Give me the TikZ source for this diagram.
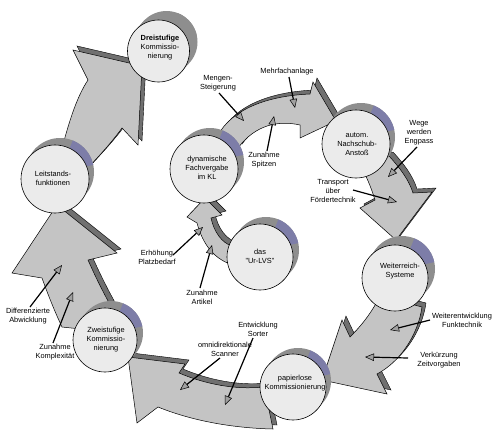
\documentclass[tikz,border=0pt]{standalone}
\usepackage{fontspec}
\setmainfont{Liberation Sans}
\usetikzlibrary{arrows.meta}
\definecolor{facecol}{HTML}{EBEBEB}
\definecolor{dshadow}{HTML}{8E8E8E}
\definecolor{dblue}{HTML}{7D7DA8}
\definecolor{afill}{HTML}{C4C4C4}
\definecolor{ashadow}{HTML}{707070}
\definecolor{tipfill}{HTML}{A0A0A0}
% disk: [blue colour]{name}{x}{y}{r}{dx}{dy}
\newcommand{\mydisk}[7][dblue]{%
 \begin{scope}[shift={(#3,#4)}]
  \fill[dshadow] (#6,-#7) circle[radius=#5];
  \fill[dshadow] ({-0.7071*#5},{-0.7071*#5}) -- ({-0.7071*#5+#6},{-0.7071*#5-#7}) -- ({0.7071*#5+#6},{0.7071*#5-#7}) -- ({0.7071*#5},{0.7071*#5}) -- cycle;
  \begin{scope}
   \clip (#6,-#7) circle[radius=#5];
   \fill[#1] (#6,-#7) -- +(-12:60) -- +(-40:60) -- +(-68:60) -- cycle;
  \end{scope}
  \node[circle,draw=black,line width=0.6pt,fill=facecol,minimum size=#5*2pt,inner sep=0pt] (#2) at (0,0) {};
 \end{scope}}
\newcommand{\blockarrow}[1]{\filldraw[blkshadow] #1; \filldraw[blk] #1;}
\begin{document}
\begin{tikzpicture}[x=1pt,y=-1pt,
  lbl/.style={align=center,font=\fontsize{7.4}{9}\selectfont,inner sep=0pt},
  blk/.style={fill=afill,draw=black,line width=0.5pt,line join=miter},
  blkshadow/.style={fill=ashadow,draw=black,line width=0.4pt,shift={(4,-4)}},
  ptr/.style={line width=1.2pt,-{Triangle[length=9pt,width=7.5pt,fill=tipfill,line width=0.5pt]}}]

\fill[white] (0,0) rectangle (500,437);
\useasboundingbox (0,0) rectangle (500,437);

% ---- block arrows ----
% Leitstands -> Dreistufige
\blockarrow{(60,156) .. controls (68,125) and (76,98) .. (88,80) -- (73,50) -- (142,66) -- (138,145) -- (122,128) .. controls (112,142) and (100,155) .. (86,170) -- cycle}
% Zweistufige -> Leitstands
\blockarrow{(57,205) -- (117,253) -- (88,260) .. controls (96,278) and (103,292) .. (113,310) -- (90,330) -- (62,327) .. controls (54,310) and (47,292) .. (42,278) -- (12,273) -- cycle}
% papierlose -> Zweistufige
\blockarrow{(128,357) -- (185,364) -- (179,373) .. controls (205,384) and (235,390) .. (263,387) -- (268,405) -- (273,429) .. controls (230,428) and (190,420) .. (158,407) -- (137,423) -- cycle}
% Weiterreich -> papierlose
\blockarrow{(380,296) -- (422,307) .. controls (418,335) and (400,362) .. (377,374) -- (387,394) -- (322,380) -- (342,320) -- (350,337) .. controls (362,325) and (372,312) .. (380,296) -- cycle}
% autom -> Weiterreich
\blockarrow{(362,168) -- (389,156) .. controls (400,168) and (409,180) .. (413,193) -- (432,192) -- (396,240) -- (360,208) -- (375,200) .. controls (372,190) and (368,180) .. (362,168) -- cycle}
% dynamische -> autom
\blockarrow{(218,135) .. controls (232,110) and (265,96) .. (310,94) -- (313,82) -- (336,121) -- (300,138) -- (300,125) .. controls (278,120) and (255,125) .. (238,148) -- cycle}
% Ur-LVS -> dynamische
\blockarrow{(205,198) -- (222,215) -- (211,218) .. controls (214,232) and (222,243) .. (232,246) -- (230,264) .. controls (214,258) and (203,245) .. (197,223) -- (187,217) -- cycle}

% ---- disks ----
\mydisk[dshadow]{D3}{158.5}{51}{31}{8}{9}
\mydisk{LS}{55}{179}{34}{5}{7}
\mydisk{DY}{204}{169}{34}{6}{7}
\mydisk{AU}{356}{144}{34}{5}{7}
\mydisk{WR}{395}{278}{33}{7}{9}
\mydisk{PK}{293}{387}{33}{5}{6}
\mydisk{UR}{260}{257}{33}{6}{7}
\mydisk{ZK}{105}{340}{32}{6}{7}

\node[lbl] (D3t) at (160,48) {\textbf{Dreistufige}\\Kommissio-\\nierung};
\node[lbl] (LSt) at (53,178) {Leitstands-\\funktionen};
\node[lbl] (DYt) at (207,167.5) {dynamische\\Fachvergabe\\im KL};
\node[lbl] (AUt) at (357,144.5) {autom.\\Nachschub-\\Anstoß};
\node[lbl] (WRt) at (400,271) {Weiterreich-\\Systeme};
\node[lbl] (PKt) at (295,383) {papierlose\\Kommissionierung};
\node[lbl] (URt) at (260,256) {das\\"Ur-LVS"};
\node[lbl] (ZKt) at (106,340) {Zweistufige\\Kommissio-\\nierung};

% ---- labels ----
\node[lbl] (l1) at (218,83.5) {Mengen-\\Steigerung};
\node[lbl] (l2) at (287,72) {Mehrfachanlage};
\node[lbl] (l3) at (264,160) {Zunahme\\Spitzen};
\node[lbl] (l4) at (419,133) {Wege\\werden\\Engpass};
\node[lbl] (l5) at (333,191) {Transport\\über\\Fördertechnik};
\node[lbl] (l6) at (462,320) {Weiterentwicklung\\Funktechnik};
\node[lbl] (l7) at (439,360) {Verkürzung\\Zeitvorgaben};
\node[lbl] (l8) at (258,329.5) {Entwicklung\\Sorter};
\node[lbl] (l9) at (225,349) {omnidirektionale\\Scanner};
\node[lbl] (l10) at (157,257.5) {Erhöhung\\Platzbedarf};
\node[lbl] (l11) at (202,297.5) {Zunahme\\Artikel};
\node[lbl] (l12) at (28,316) {Differenzierte\\Abwicklung};
\node[lbl] (l13) at (55,352.5) {Zunahme\\Komplexität};

% ---- pointer arrows ----
\coordinate (p1s) at (219,93);  \coordinate (p1e) at (244,121);
\coordinate (p2s) at (289,77);  \coordinate (p2e) at (295,108);
\coordinate (p3s) at (267,151); \coordinate (p3e) at (274,116);
\coordinate (p4s) at (417,147); \coordinate (p4e) at (388,177);
\coordinate (p5s) at (353,190); \coordinate (p5e) at (397,202);
\coordinate (p6s) at (430,320); \coordinate (p6e) at (390,330);
\coordinate (p7s) at (408,358); \coordinate (p7e) at (365,357);
\coordinate (p8s) at (253,338); \coordinate (p8e) at (225,405);
\coordinate (p9s) at (220,358); \coordinate (p9e) at (180,390);
\coordinate (p10s) at (173,255); \coordinate (p10e) at (203,227);
\coordinate (p11s) at (200,288); \coordinate (p11e) at (212,245);
\coordinate (p12s) at (30,307); \coordinate (p12e) at (62,265);
\coordinate (p13s) at (53,343); \coordinate (p13e) at (73,292);
\foreach \i in {1,...,13} {\draw[ptr] (p\i s) -- (p\i e);}
\end{tikzpicture}
\end{document}
